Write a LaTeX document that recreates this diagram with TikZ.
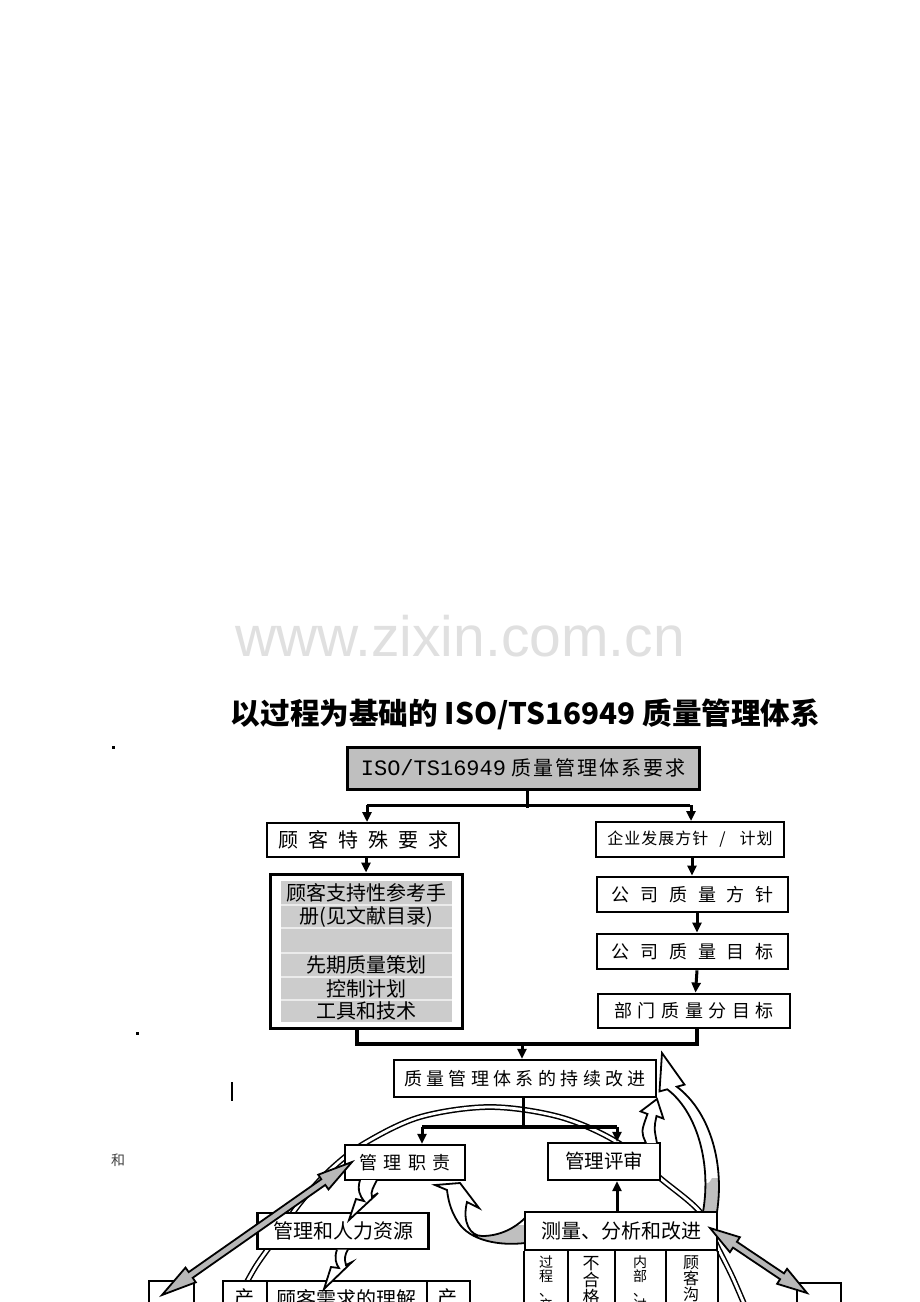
\documentclass[tikz,border=0pt]{standalone}
\usepackage{fontspec}
\setmainfont{Noto Sans CJK SC}
\newfontfamily\monof{Liberation Mono}
\newfontfamily\wmf{Liberation Sans}
\usetikzlibrary{arrows.meta}
\newcommand\fs[1]{\fontsize{#1}{#1}\selectfont}
\newlength\gl
\newcommand\gx{\hspace{\gl}}
\begin{document}
\begin{tikzpicture}[x=0.5pt,y=-0.5pt,
  bx/.style={draw, fill=white, line width=1pt, inner sep=0pt},
  ln/.style={line width=1.5pt},
  arr/.style={line width=1.5pt, -{Triangle[length=5pt,width=4.5pt]}},
  band/.style={draw=black, line width=0.75pt, double=white, double distance=1.4pt},
  hollow/.style={draw, line width=0.9pt, fill=white, line join=miter},
  garr/.style={draw, line width=0.9pt, fill=black!28, line join=miter},
  lbl/.style={inner sep=0pt}]
\path[use as bounding box, fill=white] (0,0) rectangle (920,1302);
\clip (0,0) rectangle (920,1302);

% watermark and title
\node[lbl, text=black!12, font={\wmf\fs{28.5pt}}] (wm) at (460,636) {www.zixin.com.cn};
\node[lbl, font={\bfseries\fs{14.8pt}}] (title) at (525.5,714) {以过程为基础的 ISO/TS16949 质量管理体系};

% stray marks
\fill (112,746) rectangle (115,749);
\fill (136,1032) rectangle (139,1035);
\draw[line width=0.6pt] (232,1082) -- (232,1101);
\node[lbl, text=black!75, font=\fs{7pt}] (he) at (118,1160) {和};

% background loop band
\draw[band] plot[smooth, tension=0.55] coordinates {(240,1295) (256,1266) (278,1235) (300,1203) (330,1170) (365,1143) (420,1117) (490,1107) (560,1117) (617,1142) (660,1178) (700,1212) (718,1248) (732,1276) (745,1306)};

% top box
\node[bx, line width=1.5pt, fill=black!25, minimum width=176pt, minimum height=21pt] (req) at (523,768)
  {{\monof\fs{11pt}ISO/TS16949}\hspace{2.5pt}{\fs{10pt}\setlength\gl{1pt}质\gx{}量\gx{}管\gx{}理\gx{}体\gx{}系\gx{}要\gx{}求}};

\node[bx, minimum width=96pt, minimum height=17pt, font={\fs{10pt}\setlength\gl{5pt}}] (cust) at (363,840) {顾\gx{}客\gx{}特\gx{}殊\gx{}要\gx{}求};
\node[bx, minimum width=94pt, minimum height=17.5pt, font={\fs{8pt}\setlength\gl{0.5pt}}] (dev) at (690,839.5)
  {企\gx{}业\gx{}发\gx{}展\gx{}方\gx{}针\hspace{5.5pt}/\hspace{7pt}计\gx{}划};

% big left box
\node[bx, line width=1.5pt, minimum width=96pt, minimum height=77pt] (big) at (366,951) {};
\fill[black!20] (281,881) rectangle (452,1022);
\foreach \yy in {905,928,953,977,1000} \draw[black!8, line width=0.6pt] (281,\yy) -- (452,\yy);
\node[lbl, font=\fs{10pt}] (b1) at (366,893) {顾客支持性参考手};
\node[lbl, font=\fs{10pt}] (b2) at (366,916.5) {册(见文献目录)};
\node[lbl, font=\fs{10pt}] (b4) at (366,965) {先期质量策划};
\node[lbl, font=\fs{10pt}] (b5) at (366,988.5) {控制计划};
\node[lbl, font=\fs{10pt}] (b6) at (366,1011) {工具和技术};

% right column
\node[bx, line width=1.4pt, minimum width=95.5pt, minimum height=17.5pt, font={\fs{9pt}\setlength\gl{5.5pt}}] (pol) at (692.5,894.5) {公\gx{}司\gx{}质\gx{}量\gx{}方\gx{}针};
\node[bx, line width=1.4pt, minimum width=95.5pt, minimum height=17.5pt, font={\fs{9pt}\setlength\gl{5.5pt}}] (obj) at (692.5,951.5) {公\gx{}司\gx{}质\gx{}量\gx{}目\gx{}标};
\node[bx, line width=1.4pt, minimum width=96pt, minimum height=17pt, font={\fs{9pt}\setlength\gl{2.8pt}}] (dept) at (694,1011) {部\gx{}门\gx{}质\gx{}量\gx{}分\gx{}目\gx{}标};

% continuous improvement
\node[bx, line width=1.2pt, minimum width=131pt, minimum height=18.5pt, font={\fs{9pt}\setlength\gl{2.2pt}}] (cont) at (525,1078.5)
  {质\gx{}量\gx{}管\gx{}理\gx{}体\gx{}系\gx{}的\gx{}持\gx{}续\gx{}改\gx{}进};

% second level
\node[bx, line width=1.2pt, minimum width=60pt, minimum height=17.5pt, font={\fs{9pt}\setlength\gl{3.3pt}}] (mgr) at (405,1162.5) {管\gx{}理\gx{}职\gx{}责};
\node[bx, line width=1.2pt, minimum width=56pt, minimum height=18.5pt, font=\fs{9.75pt}] (rev) at (604,1161.5) {管理评审};
\node[bx, line width=1.2pt, minimum width=85.5pt, minimum height=18pt, font=\fs{10pt}] (hr) at (343,1231) {管理和人力资源};
\node[bx, line width=1.2pt, minimum width=96pt, minimum height=19pt, font=\fs{10pt}] (meas) at (621,1231) {测量、分析和改进};

% columns below measurement box
\draw[line width=1pt] (meas.south west) -- ++(0,80);
\draw[line width=1pt] (meas.south east) -- ++(0,80);
\coordinate (c1) at (568,1250);
\coordinate (c2) at (615,1250);
\coordinate (c3) at (666,1250);
\draw[line width=1pt] (c1) -- ++(0,80);
\draw[line width=1pt] (c2) -- ++(0,80);
\draw[line width=1pt] (c3) -- ++(0,80);
\node[lbl, anchor=north, align=center, font={\fontsize{7pt}{7.3pt}\selectfont}] (t1) at (546,1255) {过\\程\\、\\产};
\node[lbl, anchor=north, align=center, font={\fontsize{8.5pt}{8.5pt}\selectfont}] (t2) at (591,1256) {不\\合\\格};
\node[lbl, anchor=north, align=center, font={\fontsize{7pt}{7.3pt}\selectfont}] (t3) at (640,1255) {内\\部\\、\\过};
\node[lbl, anchor=north, align=center, font={\fontsize{8pt}{8pt}\selectfont}] (t4) at (691,1255) {顾\\客\\沟\\通};

% bottom boxes (cut by the page edge)
\node[bx, minimum width=22.5pt, minimum height=25pt, anchor=north west] (lb) at (148,1280) {};
\node[bx, minimum width=22pt, minimum height=25pt, anchor=north west] (p1) at (222,1280) {};
\node[bx, line width=1.2pt, minimum width=80pt, minimum height=25pt, anchor=north west] (und) at (266,1280) {};
\node[bx, minimum width=21.5pt, minimum height=25pt, anchor=north west] (p2) at (426,1280) {};
\node[bx, minimum width=22pt, minimum height=25pt, anchor=north west] (rb) at (796,1282) {};
\node[lbl, font=\fs{10pt}] (p1t) at (244,1298) {产};
\node[lbl, font=\fs{10pt}] (undt) at (346,1299) {顾客需求的理解};
\node[lbl, font=\fs{10pt}] (p2t) at (447,1298) {产};

% connectors
\coordinate (j1) at (527,805);
\draw[ln] (req.south -| j1) -- ([yshift=-1.5pt]j1);
\draw[ln] ([xshift=2pt]cust.north |- j1) -- (dev.north |- j1);
\draw[arr] ([xshift=2pt]cust.north |- j1) -- ([xshift=2pt]cust.north);
\draw[arr] ([xshift=0.5pt]dev.north |- j1) -- ([xshift=0.5pt]dev.north);
\draw[arr] ([xshift=1.5pt]cust.south) -- ([xshift=1.5pt]cust.south |- big.north);
\draw[arr] ([xshift=1pt]dev.south) -- ([xshift=1pt]dev.south |- pol.north);
\draw[arr] ([xshift=2.25pt]pol.south) -- ([xshift=2.25pt]pol.south |- obj.north);
\draw[arr] ([xshift=2.25pt]obj.south) -- ([xshift=1.5pt]obj.south |- dept.north);
\coordinate (j2) at (522,1044);
\draw[line width=1.8pt] ([xshift=-4.5pt]big.south) -- ([xshift=-4.5pt]big.south |- j2) -- ([xshift=1.5pt]dept.south |- j2) -- ([xshift=1.5pt]dept.south);
\draw[arr] (j2) -- (j2 |- cont.north);
\coordinate (j3) at (523,1127);
\coordinate (a1) at (422,1127);
\coordinate (a2) at (617,1127);
\draw[ln] (cont.south -| j3) -- (j3);
\draw[line width=1.8pt] (a1) -- (a2);
\draw[arr] (a1) -- (a1 |- mgr.north);
\draw[arr] (a2) -- (a2 |- rev.north);
\draw[arr] (a2 |- meas.north) -- (a2 |- rev.south);

% gray double arrows
\draw[garr] (352,1162) -- (318.2,1174.7) -- (321.3,1179.2) -- (188.7,1272.1) -- (185.5,1267.6) -- (162,1295)
  -- (195.8,1282.3) -- (192.7,1277.8) -- (325.3,1184.9) -- (328.5,1189.4) -- cycle;
\draw[garr] (710,1228) -- (739.9,1237.2) -- (736.9,1241.8) -- (784.0,1273.4) -- (787.1,1268.8) -- (807,1293)
  -- (777.1,1283.8) -- (780.1,1279.2) -- (733.0,1247.6) -- (729.9,1252.2) -- cycle;

% hollow curved arrows
\draw[hollow] (360,1180) .. controls (357,1190) and (360,1196) .. (364,1201) -- (356,1199) -- (349,1220)
  -- (378,1193) -- (372,1197) .. controls (370,1192) and (374,1186) .. (377,1180);
\draw[hollow] (337,1249.5) .. controls (334,1258) and (336,1264) .. (339,1268) -- (331,1267) -- (324,1289)
  -- (352,1262) -- (346,1265) .. controls (344,1259) and (345,1254) .. (348,1249.5);

% big gray-shaded curved arrow from measurement to management responsibility
\def\cthree{(435,1185) -- (460,1183) -- (479,1208) -- (467,1202) .. controls (462,1222) and (470,1236) .. (482,1236)
  .. controls (500,1236) and (515,1228) .. (525,1218) -- (525,1243) .. controls (500,1246) and (470,1241) .. (458,1222)
  .. controls (450,1210) and (448,1198) .. (447,1190) -- cycle}
\fill[white] \cthree;
\begin{scope}
\clip \cthree;
\fill[black!25] (477,1225) rectangle (527,1250);
\end{scope}
\draw[line width=0.9pt, line join=miter] \cthree;

% arrow from management review up to continuous improvement
\draw[hollow] (646,1143) .. controls (641,1132) .. (647.5,1114) -- (640.6,1111.4) -- (657,1099)
  -- (663.4,1118.6) -- (656.5,1116) .. controls (654,1128) .. (657,1143);

% big arrow from measurement up to continuous improvement
\def\rone{(703,1212) .. controls (712,1160) and (695,1110) .. (667.2,1089.3) -- (659.5,1091.4) -- (662,1053)
  -- (684.5,1084.6) -- (676.8,1086.7) .. controls (708,1110) and (725,1160) .. (717,1212) -- cycle}
\fill[white] \rone;
\begin{scope}
\clip \rone;
\fill[black!25] (700,1178) .. controls (708,1185) .. (712,1178) -- (730,1178) -- (730,1215) -- (700,1215) -- cycle;
\end{scope}
\draw[line width=0.9pt, line join=miter] \rone;
\end{tikzpicture}
\end{document}
